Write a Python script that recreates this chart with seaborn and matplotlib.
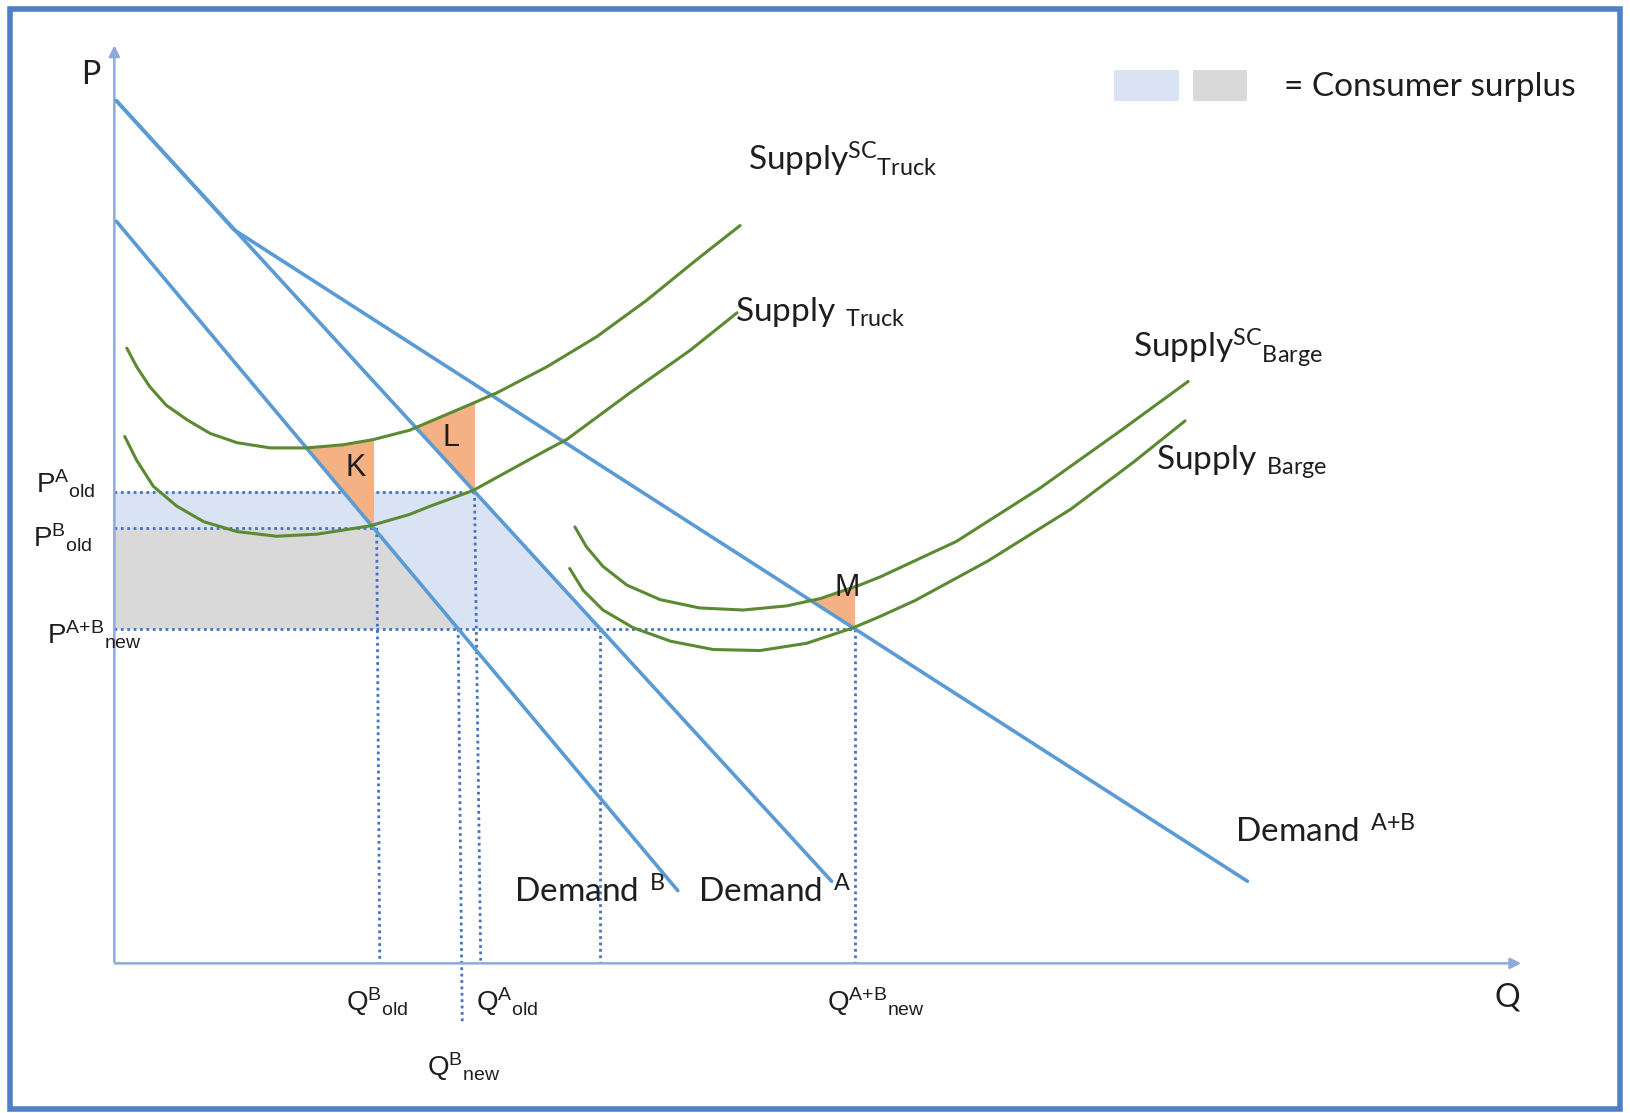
import numpy as np
import pandas as pd
import matplotlib
matplotlib.use('Agg')
import matplotlib.pyplot as plt
from matplotlib.patches import Rectangle
import seaborn as sns

# ---- data (Q, P units) ----
demand_a_q = [0.2, 69.0]
demand_a_p = [83.0, 7.9]

demand_b_q = [0.2, 54.2]
demand_b_p = [71.4, 7.0]

demand_ab_q = [0.2, 11.5, 109.0]
demand_ab_p = [83.0, 70.6, 7.9]

sc_truck_q = [1.2, 2.15, 3.4, 5.0, 7.0, 9.2, 11.8, 15.0, 18.5, 22.0, 24.9, 28.4,
              34.5, 36.8, 41.6, 46.4, 51.2, 56.0, 60.2]
sc_truck_p = [59.2, 57.4, 55.5, 53.7, 52.3, 51.0, 50.1, 49.6, 49.6, 49.9, 50.4, 51.3,
              53.9, 54.9, 57.4, 60.3, 63.8, 67.7, 71.0]

truck_q = [1.0, 2.15, 3.75, 6.0, 8.6, 11.8, 15.6, 19.5, 24.6, 28.4, 30.4, 34.5,
           41.6, 43.5, 49.6, 55.4, 59.9]
truck_p = [50.7, 48.4, 45.9, 44.0, 42.5, 41.55, 41.1, 41.3, 42.1, 43.2, 44.0, 45.5,
           49.4, 50.4, 54.9, 59.0, 62.6]

sc_barge_q = [44.3, 45.4, 47.0, 49.3, 52.5, 56.3, 60.5, 64.7, 67.9, 71.7, 73.7,
              81.0, 89.0, 97.0, 103.3]
sc_barge_p = [42.0, 40.1, 38.2, 36.4, 35.0, 34.2, 34.0, 34.4, 35.1, 36.4, 37.2,
              40.6, 45.7, 51.4, 56.0]

barge_q = [43.8, 45.1, 47.0, 49.9, 53.5, 57.6, 62.1, 66.6, 71.1, 73.7, 77.0,
           84.0, 92.0, 98.0, 103.0]
barge_p = [38.0, 35.9, 34.0, 32.3, 31.0, 30.2, 30.1, 30.8, 32.3, 33.4, 34.9,
           38.7, 43.7, 48.2, 52.2]

p_a_old = 45.4
p_b_old = 41.9
p_new = 32.2

BLUE = '#5b9bd5'
GREEN = '#5b8a32'
DOT = '#4472c4'
ORANGE = '#f4b183'
LIGHTBLUE = '#dae3f3'
GREY = '#d9d9d9'
AXIS = '#8eaad8'
INK = '#1e1e1e'


def q_at(qs, ps, p):
    # quantity on a downward demand line at price p
    return np.interp(p, ps[::-1], qs[::-1])


q_b_old = q_at(demand_b_q, demand_b_p, p_b_old)
q_a_old = q_at(demand_a_q, demand_a_p, p_a_old)
q_b_new = q_at(demand_b_q, demand_b_p, p_new)
q_a_new = q_at(demand_a_q, demand_a_p, p_new)
q_ab_new = q_at(demand_ab_q, demand_ab_p, p_new)

sns.set_theme(style='white')
plt.rcParams['font.family'] = ['Lato', 'DejaVu Sans']

fig = plt.figure(figsize=(16.3, 11.13), dpi=100)
ax = fig.add_axes([0, 0, 1, 1])
ax.set_xlim(-11.0, 145.8)
ax.set_ylim(-14.4, 92.7)
ax.axis('off')

# outer frame
fig.patches.append(Rectangle((0.006, 0.004), 0.988, 0.988, transform=fig.transFigure,
                             fill=False, edgecolor='#4f7fc4', linewidth=4))

# consumer surplus areas
pp = np.linspace(p_new, p_a_old, 50)
ax.fill_betweenx(pp, 0, q_at(demand_a_q, demand_a_p, pp), color=LIGHTBLUE, lw=0, zorder=1)
pp = np.linspace(p_new, p_b_old, 50)
ax.fill_betweenx(pp, 0, q_at(demand_b_q, demand_b_p, pp), color=GREY, lw=0, zorder=1)

# dotted guide lines
dot_kw = dict(color=DOT, linestyle=(0, (1, 1.3)), linewidth=2, zorder=2)
ax.plot([0, q_a_old], [p_a_old, p_a_old], **dot_kw)
ax.plot([0, q_b_old], [p_b_old, p_b_old], **dot_kw)
ax.plot([0, q_ab_new], [p_new, p_new], **dot_kw)
ax.plot([q_b_old + 0.3, q_b_old + 0.6], [p_b_old, 0], **dot_kw)
ax.plot([q_a_old, q_a_old + 0.6], [p_a_old, 0], **dot_kw)
ax.plot([q_b_new, q_b_new + 0.4], [p_new, -5.8], **dot_kw)
ax.plot([q_a_new, q_a_new], [p_new, 0], **dot_kw)
ax.plot([q_ab_new, q_ab_new], [p_new, 0], **dot_kw)


# triangles K, L, M between a demand line and the social-cost supply
def triangle(dq, dp, sq, sp, q_right, q_left_guess):
    qq = np.linspace(q_left_guess, q_right, 300)
    lower = np.interp(qq, dq, dp)
    upper = np.interp(qq, sq, sp)
    ax.fill_between(qq, lower, upper, where=upper >= lower, interpolate=True,
                    color=ORANGE, lw=0, zorder=3)


triangle(demand_b_q, demand_b_p, sc_truck_q, sc_truck_p, q_b_old, 10)
triangle(demand_a_q, demand_a_p, sc_truck_q, sc_truck_p, q_a_old, 20)
triangle(demand_ab_q, demand_ab_p, sc_barge_q, sc_barge_p, q_ab_new, 60)

# axes arrows
arrow_kw = dict(arrowstyle='-|>', color=AXIS, lw=1.8, mutation_scale=16)
ax.annotate('', xy=(0, 88.6), xytext=(0, -0.1), arrowprops=arrow_kw, zorder=2)
ax.annotate('', xy=(135.6, 0), xytext=(-0.2, 0), arrowprops=arrow_kw, zorder=2)

# demand and supply curves
curves = [
    (demand_a_q, demand_a_p, BLUE, 2.6),
    (demand_b_q, demand_b_p, BLUE, 2.6),
    (demand_ab_q, demand_ab_p, BLUE, 2.6),
    (sc_truck_q, sc_truck_p, GREEN, 2.2),
    (truck_q, truck_p, GREEN, 2.2),
    (sc_barge_q, sc_barge_p, GREEN, 2.2),
    (barge_q, barge_p, GREEN, 2.2),
]
for q, p, c, w in curves:
    sns.lineplot(x=q, y=p, color=c, linewidth=w, sort=False, estimator=None, ax=ax, zorder=4)

# labels
lab = dict(fontsize=24, color=INK, va='baseline', ha='left', zorder=6)
ax.text(61.0, 76.3, r'$\mathregular{Supply^{SC}{}_{Truck}}$', **lab)
ax.text(59.7, 61.8, r'$\mathregular{Supply\ {}_{Truck}}$', **lab)
ax.text(98.0, 58.3, r'$\mathregular{Supply^{SC}{}_{Barge}}$', **lab)
ax.text(100.2, 47.6, r'$\mathregular{Supply\ {}_{Barge}}$', **lab)
ax.text(107.8, 11.6, r'$\mathregular{Demand\ ^{A{+}B}}$', **lab)
ax.text(38.4, 5.8, r'$\mathregular{Demand\ ^{B}}$', **lab)
ax.text(56.1, 5.8, r'$\mathregular{Demand\ ^{A}}$', **lab)

pq = dict(fontsize=20, color=INK, va='baseline', ha='left', zorder=6,
          family=['Liberation Sans', 'DejaVu Sans'])
ax.text(-7.5, 45.2, r'$\mathregular{P^{A}{}_{old}}$', **pq)
ax.text(-7.8, 40.0, r'$\mathregular{P^{B}{}_{old}}$', **pq)
ax.text(-6.5, 30.7, r'$\mathregular{P^{A{+}B}{}_{new}}$', **pq)
ax.text(22.3, -4.6, r'$\mathregular{Q^{B}{}_{old}}$', **pq)
ax.text(34.8, -4.6, r'$\mathregular{Q^{A}{}_{old}}$', **pq)
ax.text(68.6, -4.6, r'$\mathregular{Q^{A{+}B}{}_{new}}$', **pq)
ax.text(30.1, -10.8, r'$\mathregular{Q^{B}{}_{new}}$', **pq)
ax.text(-2.3, 85.5, 'P', fontsize=23, color=INK, ha='center', va='center')
ax.text(134.0, -3.3, 'Q', fontsize=23, color=INK, ha='center', va='center')

tri = dict(fontsize=22, color=INK, ha='center', va='center', zorder=6,
           family=['Liberation Sans', 'DejaVu Sans'])
ax.text(23.2, 47.7, 'K', **tri)
ax.text(32.4, 50.6, 'L', **tri)
ax.text(70.5, 36.1, 'M', **tri)

# legend boxes
ax.add_patch(Rectangle((96.2, 83.0), 6.2, 3.0, color=LIGHTBLUE, lw=0))
ax.add_patch(Rectangle((103.8, 83.0), 5.2, 3.0, color=GREY, lw=0))
ax.text(112.5, 84.3, '= Consumer surplus', fontsize=24, color=INK, va='center', ha='left')

fig.savefig('out.png', dpi=100, facecolor='white')
